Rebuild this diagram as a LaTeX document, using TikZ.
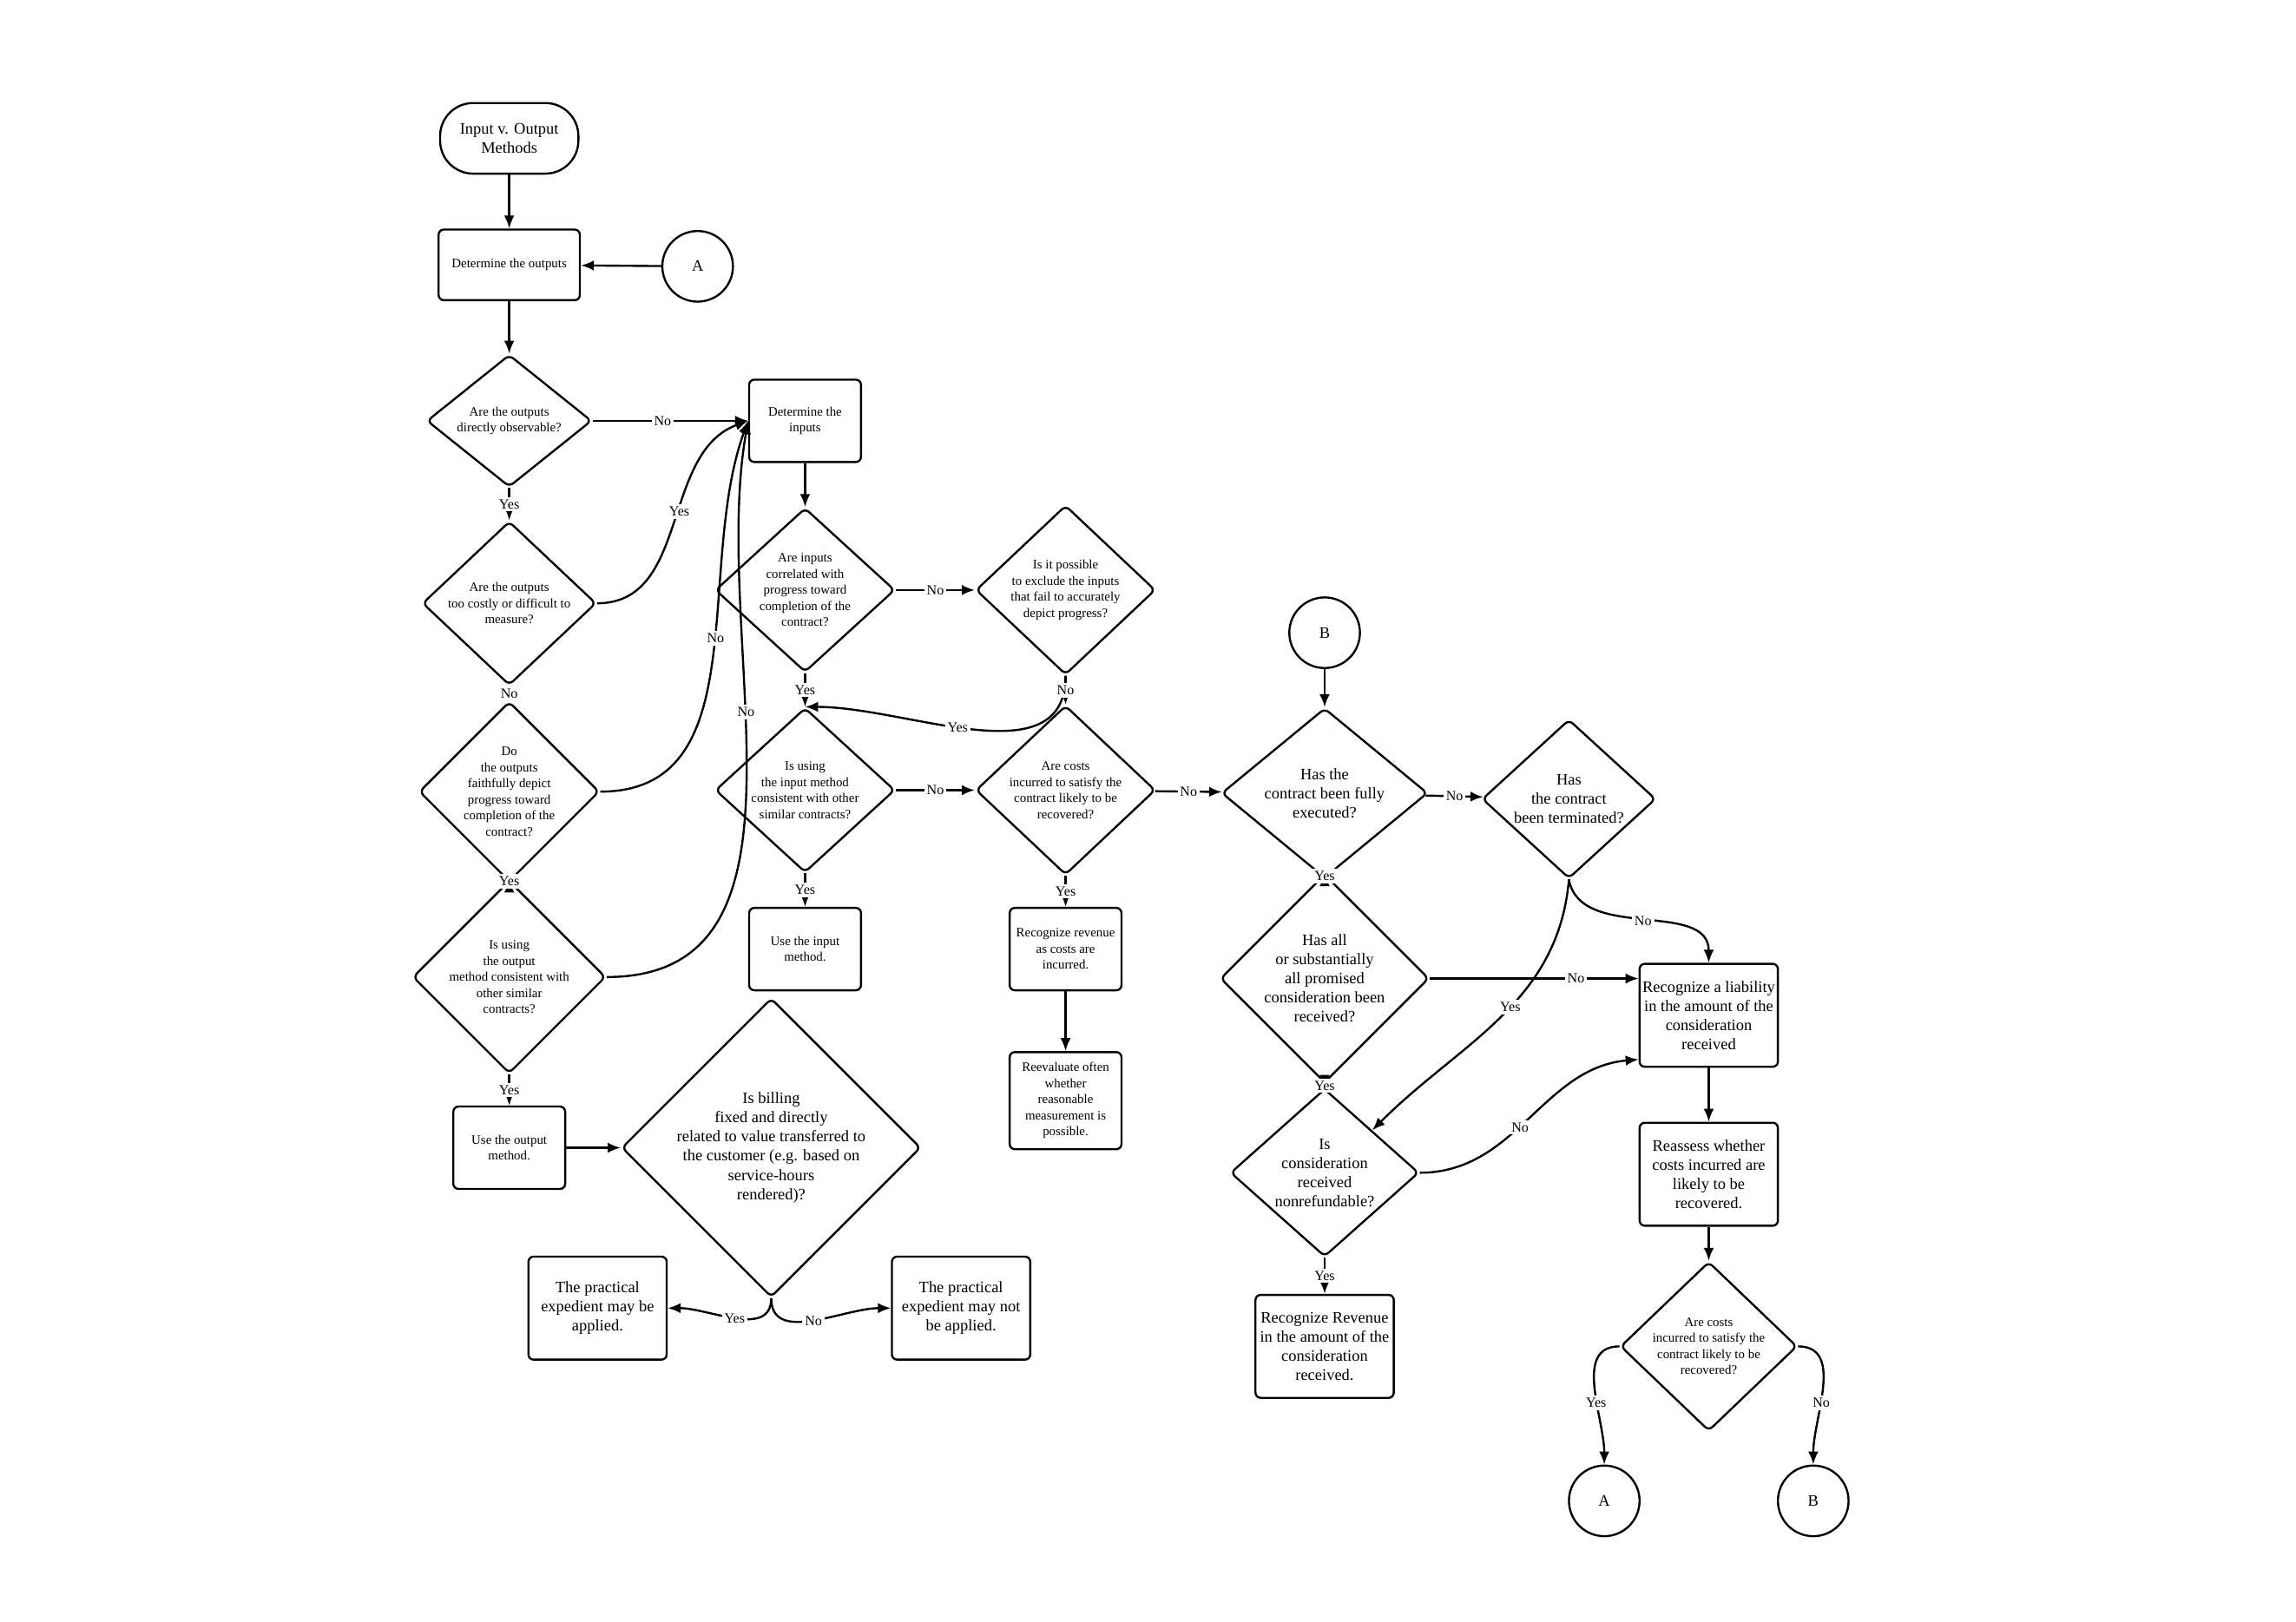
\documentclass[tikz,border=0pt]{standalone}
\usepackage{fontspec}
\setmainfont{Liberation Serif}
\usetikzlibrary{shapes.geometric,arrows.meta}
\begin{document}
\begin{tikzpicture}[x=0.02cm,y=-0.02cm,
 base/.style={draw,thick,align=center,inner sep=0pt,font=\fontsize{5}{6.2}\selectfont},
 big/.style={font=\fontsize{6.2}{7.4}\selectfont},
 box/.style={base,rounded corners=2pt},
 dia/.style={base,diamond,rounded corners=2pt},
 circ/.style={base,circle,minimum size=0.96cm,font=\fontsize{6.2}{7.4}\selectfont},
 arr/.style={thick,-{Latex[length=5pt,width=4pt]}},
 lab/.style={fill=white,inner sep=1pt,font=\fontsize{5.4}{6}\selectfont}]
\useasboundingbox (0,0) rectangle (1560,1102);
\node[box,rounded corners=0.45cm,minimum width=1.88cm,minimum height=0.96cm,big] (st) at (346,94) {Input v. Output\\Methods};
\node[box,minimum width=1.92cm,minimum height=0.96cm] (dout) at (346,180) {Determine the outputs};
\node[circ] (A) at (474,181) {A};
\node[dia,minimum width=2.24cm,minimum height=1.68cm] (q1) at (346,286) {Are the outputs\\directly observable?};
\node[dia,minimum width=2.36cm,minimum height=1.76cm] (q2) at (346,410) {Are the outputs\\too costly or difficult to\\measure?};
\node[dia,minimum width=2.44cm,minimum height=2.12cm] (q3) at (346,538) {Do\\the outputs\\faithfully depict\\progress toward\\completion of the\\contract?};
\node[dia,minimum width=2.44cm,minimum height=2cm] (q4) at (346,664) {Is using\\the output\\method consistent with\\other similar\\contracts?};
\node[box,minimum width=1.52cm,minimum height=1.12cm] (uo) at (346,780) {Use the output\\method.};
\node[dia,minimum width=3.76cm,minimum height=2.36cm,big] (bill) at (524,780) {Is billing\\fixed and directly\\related to value transferred to\\the customer (e.g. based on\\service-hours\\rendered)?};
\node[box,minimum width=1.88cm,minimum height=1.4cm,big] (pe1) at (406,889) {The practical\\expedient may be\\applied.};
\node[box,minimum width=1.88cm,minimum height=1.4cm,big] (pe2) at (653,889) {The practical\\expedient may not\\be applied.};
\node[box,minimum width=1.52cm,minimum height=1.12cm] (din) at (547,286) {Determine the\\inputs};
\node[dia,minimum width=2.44cm,minimum height=2.08cm] (i1) at (547,401) {Are inputs\\correlated with\\progress toward\\completion of the\\contract?};
\node[dia,minimum width=2.44cm,minimum height=2cm] (i2) at (724,401) {Is it possible\\to exclude the inputs\\that fail to accurately\\depict progress?};
\node[dia,minimum width=2.44cm,minimum height=1.8cm] (i3) at (547,537) {Is using\\the input method\\consistent with other\\similar contracts?};
\node[dia,minimum width=2.44cm,minimum height=1.88cm] (i4) at (724,537) {Are costs\\incurred to satisfy the\\contract likely to be\\recovered?};
\node[box,minimum width=1.52cm,minimum height=1.12cm] (ui) at (547,645) {Use the input\\method.};
\node[box,minimum width=1.52cm,minimum height=1.12cm] (ri) at (724,645) {Recognize revenue\\as costs are\\incurred.};
\node[box,minimum width=1.52cm,minimum height=1.32cm] (re) at (724,748) {Reevaluate often\\whether\\reasonable\\measurement is\\possible.};
\node[circ] (B) at (900,430) {B};
\node[dia,minimum width=2.8cm,minimum height=1.68cm,big] (b1) at (900,539) {Has the\\contract been fully\\executed?};
\node[dia,minimum width=2.36cm,minimum height=1.52cm,big] (b2) at (1066,543) {Has\\the contract\\been terminated?};
\node[dia,minimum width=2.8cm,minimum height=2.08cm,big] (b3) at (900,665) {Has all\\or substantially\\all promised\\consideration been\\received?};
\node[dia,minimum width=2.56cm,minimum height=1.84cm,big] (b4) at (900,797) {Is\\consideration\\received\\nonrefundable?};
\node[box,minimum width=1.88cm,minimum height=1.4cm,big] (li) at (1161,690) {Recognize a liability\\in the amount of the\\consideration\\received};
\node[box,minimum width=1.88cm,minimum height=1.4cm,big] (ra) at (1161,798) {Reassess whether\\costs incurred are\\likely to be\\recovered.};
\node[box,minimum width=1.88cm,minimum height=1.4cm,big] (rr) at (900,915) {Recognize Revenue\\in the amount of the\\consideration\\received.};
\node[dia,minimum width=2.4cm,minimum height=1.88cm] (b5) at (1161,915) {Are costs\\incurred to satisfy the\\contract likely to be\\recovered?};
\node[circ] (A2) at (1090,1020) {A};
\node[circ] (B2) at (1232,1020) {B};
% edges
\draw[arr] (st) -- (dout);
\draw[arr] (A) -- (dout);
\draw[arr] (dout) -- (q1);
\draw[arr] (q1) -- node[lab]{Yes} (q2);
\draw[arr] (q2) -- node[lab]{No} (q3);
\draw[arr] (q3) -- node[lab]{Yes} (q4);
\draw[arr] (q4) -- node[lab]{Yes} (uo);
\draw[arr] (uo) -- (bill);
\draw[arr] (q1.east) -- node[lab,pos=0.45]{No} (din.west);
\draw[arr] (q2.east) to[out=0,in=200] node[lab,pos=0.55]{Yes} (din.west);
\draw[arr] (q3.east) to[out=0,in=250] node[lab,pos=0.55]{No} (din.west);
\draw[arr] (q4.east) to[out=0,in=260] node[lab,pos=0.6]{No} (din.west);
\draw[arr] (bill.south) to[out=270,in=0] node[lab]{Yes} (pe1.east);
\draw[arr] (bill.south) to[out=270,in=180] node[lab]{No} (pe2.west);
\draw[arr] (din) -- (i1);
\draw[arr] (i1) -- node[lab]{No} (i2);
\draw[arr] (i1) -- node[lab]{Yes} (i3);
\draw[arr] (i2.south) to[out=270,in=0] node[lab,pos=0.55]{Yes} (i3.north);
\draw[arr] (i2) -- node[lab]{No} (i4);
\draw[arr] (i3) -- node[lab]{No} (i4);
\draw[arr] (i3) -- node[lab]{Yes} (ui);
\draw[arr] (i4) -- node[lab]{Yes} (ri);
\draw[arr] (ri) -- (re);
\draw[arr] (i4) -- node[lab]{No} (b1);
\draw[arr] (B) -- (b1);
\draw[arr] (b1) -- node[lab]{No} (b2);
\draw[arr] (b1) -- node[lab]{Yes} (b3);
\draw[arr] (b3) -- node[lab]{Yes} (b4);
\draw[arr] (b3.east) -- node[lab,pos=0.7]{No} (b3.east -| li.west);
\draw[arr] (b2.south) to[out=280,in=90] node[lab,pos=0.5]{No} (li.north);
\draw[arr] (b2.south) to[out=265,in=45] node[lab,pos=0.45]{Yes} (b4.north east);
\draw[arr] (b4.east) to[out=0,in=185] node[lab,pos=0.45]{No} ([yshift=-0.6cm]li.west);
\draw[arr] (b4) -- node[lab]{Yes} (rr);
\draw[arr] (li) -- (ra);
\draw[arr] (ra) -- (b5);
\draw[arr] (b5.west) to[out=180,in=90] node[lab,pos=0.6]{Yes} (A2.north);
\draw[arr] (b5.east) to[out=0,in=90] node[lab,pos=0.6]{No} (B2.north);
\end{tikzpicture}
\end{document}
